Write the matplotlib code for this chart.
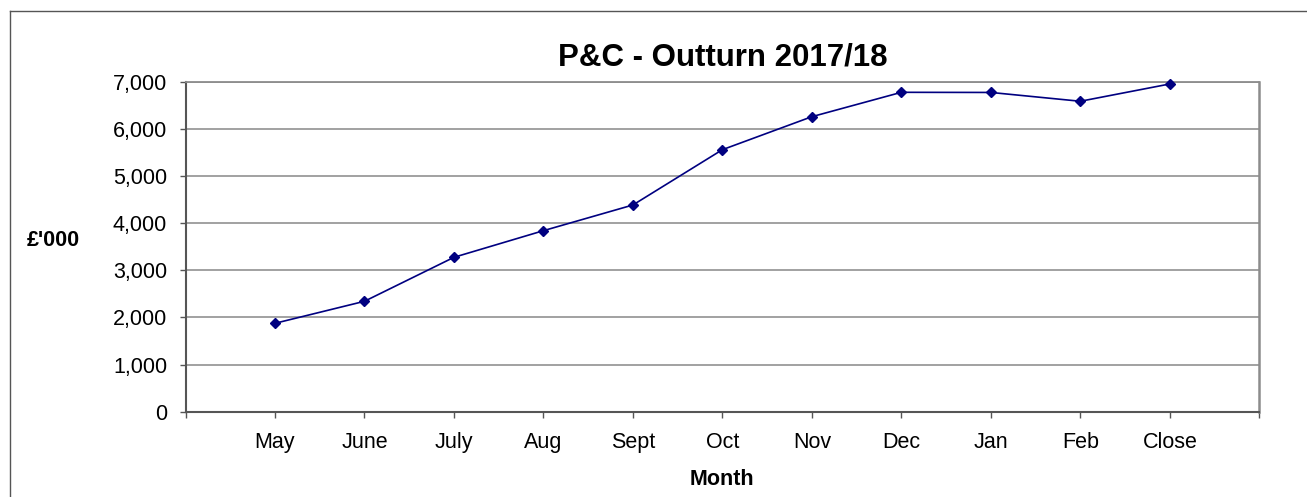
import matplotlib
matplotlib.use("Agg")
import matplotlib.pyplot as plt
from matplotlib.lines import Line2D

plt.rcParams['font.family'] = ['Liberation Sans', 'DejaVu Sans']

months = ["May", "June", "July", "Aug", "Sept", "Oct", "Nov", "Dec", "Jan", "Feb", "Close"]
outturn = [1875, 2342, 3275, 3840, 4385, 5558, 6258, 6775, 6772, 6585, 6952]
y_ticks = [0, 1000, 2000, 3000, 4000, 5000, 6000, 7000]

W, H = 1307, 497
fig = plt.figure(figsize=(W / 100, H / 100), dpi=100)
ax = fig.add_axes([185.5 / W, 1 - 411.7 / H, (1259.3 - 185.5) / W, (411.7 - 81.7) / H])

x = list(range(len(months)))
ax.plot(x, outturn, color='#000080', lw=1.2, marker='D', markersize=5.5,
        markerfacecolor='#000080', markeredgecolor='#000080', zorder=3, clip_on=False)

ax.set_xlim(-1, len(months))
ax.set_ylim(0, 7000)
ax.set_yticks(y_ticks)
ax.set_yticklabels([f"{v:,}" for v in y_ticks])
ax.set_xticks(list(range(-1, len(months) + 1)))
ax.set_xticklabels([""] + months + [""])

ax.yaxis.grid(True, color='#9a9a9a', lw=1.3)
ax.set_axisbelow(True)

for s in ['left', 'bottom']:
    ax.spines[s].set_color('#555555')
    ax.spines[s].set_linewidth(1.5)
ax.spines['right'].set_color('#8c8c8c')
ax.spines['right'].set_linewidth(1.8)
ax.spines['top'].set_color('#8c8c8c')
ax.spines['top'].set_linewidth(1.3)

ax.tick_params(axis='y', length=4.3, width=1.0, color='#555555', labelsize=15.5, pad=9)
ax.tick_params(axis='x', length=4.3, width=1.0, color='#555555', labelsize=15.5, pad=10)

ax.set_title("P&C - Outturn 2017/18", fontsize=22.5, fontweight='bold', pad=12)
ax.set_xlabel("Month", fontsize=15.5, fontweight='bold', labelpad=12)
fig.text(53 / W, 1 - 241 / H, "£'000", fontsize=15.5, fontweight='bold', ha='center', va='center')

# outer chart frame (top and left edges visible)
fig.add_artist(Line2D([9.5 / W, 1.0], [1 - 10.5 / H, 1 - 10.5 / H], transform=fig.transFigure, color='#555555', lw=1.0))
fig.add_artist(Line2D([9.5 / W, 9.5 / W], [1 - 10.5 / H, 0.0], transform=fig.transFigure, color='#555555', lw=1.0))

fig.savefig("out.png", dpi=100)
